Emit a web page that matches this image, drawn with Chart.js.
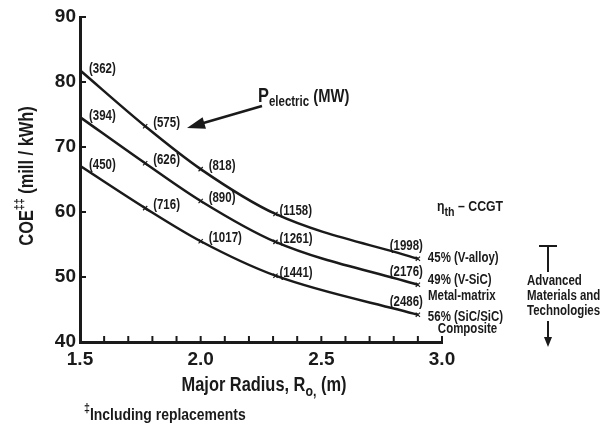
<!DOCTYPE html>
<html>
<head>
<meta charset="utf-8">
<script src="https://cdn.jsdelivr.net/npm/chart.js@4.4.1/dist/chart.umd.min.js"></script>
<style>
    html, body { margin: 0; padding: 0; background: #fff; }
</style>
</head>
<body>
<canvas class="coe-chart" width="605" height="434"></canvas>
<script>
// major radius (m) where each P_electric point sits
const radius = [1.5, 1.77, 2.0, 2.31, 2.9]

// COE (mill/kWh) per blanket option
const coeVAlloy = [81.8, 73.2, 66.6, 59.7, 52.8]
const coeVSiC = [74.6, 67.5, 61.7, 55.4, 48.8]
const coeSiCSiC = [67.1, 60.6, 55.5, 50.2, 44.2]

// P_electric (MW) labels at each point
const powerVAlloy = [362, 575, 818, 1158, 1998]
const powerVSiC = [394, 626, 890, 1261, 2176]
const powerSiCSiC = [450, 716, 1017, 1441, 2486]

const efficiencyLabels = ["45% (V-alloy)", "49% (V-SiC)", "56% (SiC/SiC)"]
const efficiencySubLabels = ["", "Metal-matrix", "Composite"]

const xTickLabels = ["1.5", "2.0", "2.5", "3.0"]
const yTickLabels = ["40", "50", "60", "70", "80", "90"]

const FONT = '"Liberation Sans", Arial, sans-serif'
const INK = "#1a1a1a"
const SQUEEZE = 0.82 // the original lettering is a condensed face

function font(size) {
    return `bold ${size}px ${FONT}`
}

// draws text made of runs (normal / sub / sup), condensed horizontally
function drawRuns(ctx, x, y, runs, align) {
    let total = 0
    runs.forEach(r => {
        ctx.font = font(r.size)
        total += ctx.measureText(r.text).width
    })
    let start = x
    if (align == "center") start = x - total * SQUEEZE / 2
    if (align == "right") start = x - total * SQUEEZE
    ctx.save()
    ctx.translate(start, y)
    ctx.scale(SQUEEZE, 1)
    ctx.textAlign = "left"
    let cx = 0
    runs.forEach(r => {
        ctx.font = font(r.size)
        ctx.fillText(r.text, cx, r.dy || 0)
        cx += ctx.measureText(r.text).width
    })
    ctx.restore()
}

function text(ctx, str, x, y, size, align) {
    drawRuns(ctx, x, y, [{ text: str, size: size }], align)
}

function arrowHead(ctx, tipX, tipY, fromX, fromY, len, half) {
    const a = Math.atan2(tipY - fromY, tipX - fromX)
    ctx.beginPath()
    ctx.moveTo(tipX, tipY)
    ctx.lineTo(tipX - len * Math.cos(a) + half * Math.sin(a), tipY - len * Math.sin(a) - half * Math.cos(a))
    ctx.lineTo(tipX - len * Math.cos(a) - half * Math.sin(a), tipY - len * Math.sin(a) + half * Math.cos(a))
    ctx.closePath()
    ctx.fill()
}

const annotations = {
    id: "annotations",
    afterDraw(chart) {
        const ctx = chart.ctx
        const xs = chart.scales.x
        const ys = chart.scales.y
        ctx.save()
        ctx.fillStyle = INK
        ctx.strokeStyle = INK

        // inward tick marks
        ctx.lineWidth = 2
        for (let v = 15; v <= 30; v++) {
            const px = xs.getPixelForValue(v / 10)
            ctx.beginPath()
            ctx.moveTo(px, ys.bottom)
            ctx.lineTo(px, ys.bottom - 6)
            ctx.stroke()
        }
        yTickLabels.forEach(t => {
            const py = ys.getPixelForValue(Number(t))
            ctx.beginPath()
            ctx.moveTo(xs.left, py)
            ctx.lineTo(xs.left + 6, py)
            ctx.stroke()
        })

        // P_electric labels
        ctx.textBaseline = "middle"
        chart.data.datasets.forEach((ds, di) => {
            const pts = chart.getDatasetMeta(di).data
            pts.forEach((p, i) => {
                const txt = `(${ds.power[i]})`
                if (i == pts.length - 1) {
                    text(ctx, txt, p.x + 5, p.y - 13, 14, "right")
                } else if (i == 0) {
                    text(ctx, txt, p.x + 9, p.y - 1, 14, "left")
                } else {
                    text(ctx, txt, p.x + (i == 3 ? 4 : 8), p.y - 3, 14, "left")
                }
            })
            // efficiency labels at the end of each curve
            const end = pts[pts.length - 1]
            const dy = [-1, -5, 2][di]
            ctx.font = font(14)
            const w = ctx.measureText(efficiencyLabels[di]).width * SQUEEZE
            text(ctx, efficiencyLabels[di], end.x + 10, end.y + dy, 14, "left")
            if (efficiencySubLabels[di]) {
                text(ctx, efficiencySubLabels[di], end.x + 12 + w / 2, end.y + dy + (di == 1 ? 16 : 12), 14, "center")
            }
        })

        // eta_th - CCGT header
        ctx.textBaseline = "alphabetic"
        drawRuns(ctx, 437, 211, [
            { text: "\u03b7", size: 15 },
            { text: "th", size: 13, dy: 5 },
            { text: " \u2013 CCGT", size: 15 }
        ], "left")

        // P_electric (MW) callout
        drawRuns(ctx, 258, 102, [
            { text: "P", size: 20 },
            { text: "electric", size: 14, dy: 4 },
            { text: " (MW)", size: 18 }
        ], "left")
        ctx.lineWidth = 2.5
        ctx.beginPath()
        ctx.moveTo(262, 106)
        ctx.lineTo(200, 124)
        ctx.stroke()
        arrowHead(ctx, 187, 128, 262, 106, 18, 6)

        // advanced materials arrow block
        ctx.lineWidth = 2
        ctx.beginPath()
        ctx.moveTo(539, 246)
        ctx.lineTo(557, 246)
        ctx.moveTo(548, 246)
        ctx.lineTo(548, 272)
        ctx.moveTo(548, 321)
        ctx.lineTo(548, 338)
        ctx.stroke()
        arrowHead(ctx, 548, 347, 548, 321, 10, 4)
        ctx.textBaseline = "middle"
        text(ctx, "Advanced", 527, 281, 14, "left")
        text(ctx, "Materials and", 527, 296, 14, "left")
        text(ctx, "Technologies", 527, 311, 14, "left")

        // axis titles
        ctx.textBaseline = "alphabetic"
        drawRuns(ctx, 264, 391, [
            { text: "Major Radius, R", size: 20 },
            { text: "o,", size: 15, dy: 5 },
            { text: " (m)", size: 20 }
        ], "center")

        ctx.save()
        ctx.translate(33, 176)
        ctx.rotate(-Math.PI / 2)
        drawRuns(ctx, 0, 0, [
            { text: "COE", size: 20 },
            { text: "\u2021\u2021", size: 13, dy: -10 },
            { text: " (mill / kWh)", size: 20 }
        ], "center")
        ctx.restore()

        // footnote
        drawRuns(ctx, 84, 420, [
            { text: "\u2021", size: 13, dy: -8 },
            { text: "Including replacements", size: 17 }
        ], "left")

        ctx.restore()
    }
}

const makeCurve = (label, coe, power) => ({
    label: label,
    data: radius.map((r, i) => ({ x: r, y: coe[i] })),
    power: power,
    borderColor: INK,
    borderWidth: 2.5,
    fill: false,
    cubicInterpolationMode: "monotone",
    pointStyle: "crossRot",
    pointRadius: radius.map((r, i) => i == 0 ? 0 : 3),
    pointBorderColor: INK,
    pointBorderWidth: 1.2
})

const ctx = document.querySelector(".coe-chart").getContext("2d")
new Chart(ctx, {
    type: "line",
    data: {
        datasets: [
            makeCurve("45% (V-alloy)", coeVAlloy, powerVAlloy),
            makeCurve("49% (V-SiC)", coeVSiC, powerVSiC),
            makeCurve("56% (SiC/SiC)", coeSiCSiC, powerSiCSiC)
        ]
    },
    options: {
        responsive: false,
        animation: false,
        layout: { padding: { top: 17, right: 163, left: 0, bottom: 0 } },
        plugins: {
            legend: { display: false },
            tooltip: { enabled: false }
        },
        scales: {
            x: {
                type: "linear",
                min: 1.5,
                max: 3.0,
                grid: { display: false, drawTicks: false },
                border: { display: true, color: INK, width: 3 },
                ticks: {
                    stepSize: 0.1,
                    autoSkip: false,
                    maxRotation: 0,
                    padding: 6,
                    color: INK,
                    font: { family: FONT, size: 19, weight: "bold" },
                    callback: value => xTickLabels.find(t => Math.abs(Number(t) - value) < 1e-6) || ""
                },
                afterFit: scale => { scale.height = 92 }
            },
            y: {
                min: 40,
                max: 90,
                grid: { display: false, drawTicks: false },
                border: { display: true, color: INK, width: 3 },
                ticks: {
                    stepSize: 10,
                    padding: 4,
                    color: INK,
                    font: { family: FONT, size: 19, weight: "bold" },
                    callback: value => yTickLabels.find(t => Number(t) == value) || ""
                },
                afterFit: scale => { scale.width = 80 }
            }
        }
    },
    plugins: [annotations]
})
</script>
</body>
</html>
